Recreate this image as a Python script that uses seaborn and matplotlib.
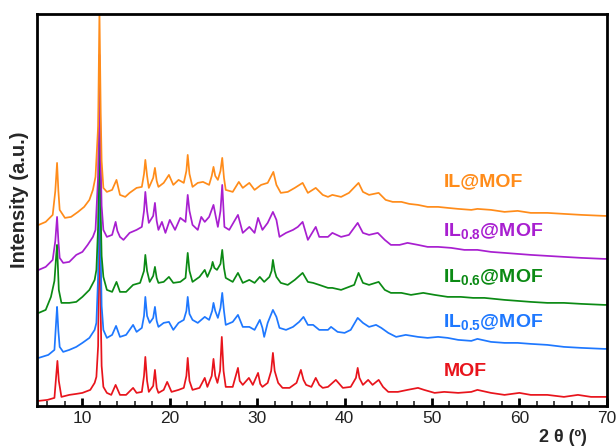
import matplotlib
matplotlib.use("Agg")
import matplotlib.pyplot as plt
from matplotlib.ticker import MultipleLocator, NullLocator
import seaborn as sns
import pandas as pd

# --- XRD patterns (2θ in degrees, intensity in arbitrary units) ---
mof_2theta = [5.0, 6.0, 6.8, 7.0, 7.14, 7.3, 7.6, 8.5, 9.3, 10.0, 10.9, 11.4, 11.6, 11.8, 11.95, 12.1, 12.2,
              12.4, 12.8, 13.3, 13.8, 14.3, 15.0, 15.8, 16.2, 16.8, 17.05, 17.2, 17.4, 17.6, 18.1, 18.3, 18.5,
              18.7, 19.3, 19.7, 20.2, 21.0, 21.6, 21.9, 22.05, 22.25, 22.6, 23.4, 24.0, 24.3, 24.8, 25.0, 25.2,
              25.45, 25.75, 25.95, 26.15, 26.4, 27.2, 27.8, 28.0, 28.35, 29.05, 29.5, 30.1, 30.35, 30.6, 31.2,
              31.6, 31.8, 32.0, 32.4, 32.9, 33.7, 34.5, 35.0, 35.3, 35.6, 36.2, 36.7, 37.1, 37.5, 38.1, 39.0,
              39.8, 40.7, 41.3, 41.5, 41.7, 42.1, 42.7, 43.2, 43.9, 44.4, 45.0, 46.1, 47.2, 48.4, 49.1, 50.3,
              51.4, 53.0, 54.5, 55.2, 56.75, 58.3, 60.0, 61.3, 63.2, 65.1, 66.7, 68.2, 69.7, 70.0]
mof_int = [5, 6, 8, 30, 45, 25, 9, 11, 12, 13, 16, 23, 29, 60, 215, 90, 40,
           19, 13, 11, 21, 11, 11, 18, 13, 14, 30, 49, 25, 14, 20, 36, 18,
           13, 16, 24, 14, 16, 18, 30, 48, 25, 16, 18, 28, 19, 30, 47, 30,
           23, 35, 69, 35, 19, 19, 38, 25, 21, 28, 21, 33, 22, 19, 23,
           35, 53, 35, 23, 18, 18, 23, 36, 26, 21, 19, 28, 21, 18, 19, 26,
           18, 19, 28, 38, 28, 21, 26, 21, 26, 19, 14, 14, 16, 18, 16, 13,
           14, 13, 14, 16, 13, 11, 13, 11, 11, 9, 11, 9, 9, 9]

il05_2theta = [5.0, 6.1, 6.8, 7.0, 7.1, 7.25, 7.4, 7.8, 8.5, 9.3, 10.0, 10.8, 11.4, 11.6, 11.8, 11.95, 12.1,
               12.2, 12.4, 12.8, 13.4, 13.85, 14.3, 15.0, 15.8, 16.2, 16.8, 17.05, 17.2, 17.4, 17.7, 18.1,
               18.3, 18.5, 18.7, 19.3, 19.9, 20.4, 21.0, 21.6, 21.9, 22.05, 22.25, 22.6, 23.2, 24.0, 24.5,
               24.85, 25.0, 25.2, 25.5, 25.8, 26.0, 26.2, 26.4, 27.2, 27.8, 28.35, 29.1, 29.7, 30.3, 30.6,
               30.8, 31.2, 31.8, 32.2, 32.55, 33.3, 34.1, 34.8, 35.3, 35.8, 36.4, 37.1, 38.1, 38.45, 39.2,
               40.0, 40.7, 41.5, 42.1, 42.8, 43.6, 44.2, 45.0, 45.9, 47.0, 48.4, 49.5, 50.7, 51.8, 53.0,
               54.5, 55.2, 56.75, 58.3, 59.8, 61.3, 63.2, 65.1, 67.1, 69.7, 70.0]
il05_int = [3, 6, 11, 40, 54, 30, 14, 9, 11, 14, 18, 23, 31, 38, 85, 214, 105,
            55, 31, 23, 26, 35, 24, 26, 36, 29, 33, 45, 64, 45, 38, 43,
            54, 40, 34, 38, 39, 31, 38, 41, 50, 64, 47, 41, 38, 44, 41,
            50, 58, 50, 43, 53, 68, 50, 36, 39, 46, 34, 34, 31, 41, 33,
            24, 38, 51, 44, 33, 31, 34, 39, 44, 36, 36, 31, 31, 34, 29,
            28, 31, 43, 38, 34, 36, 33, 28, 24, 26, 24, 23, 24, 23, 21,
            20, 22, 19, 18, 18, 17, 16, 14, 13, 12, 12]

il06_2theta = [5.0, 5.8, 6.4, 6.8, 7.0, 7.1, 7.3, 7.6, 8.5, 9.3, 10.0, 10.8, 11.4, 11.6, 11.8, 11.95, 12.1,
               12.2, 12.4, 12.8, 13.4, 13.9, 14.3, 15.0, 15.8, 16.6, 17.05, 17.2, 17.4, 17.7, 18.1, 18.3,
               18.5, 18.7, 19.3, 19.9, 20.4, 21.2, 21.8, 21.9, 22.05, 22.25, 22.6, 23.4, 24.0, 24.3, 24.75,
               24.9, 25.1, 25.4, 25.8, 26.0, 26.2, 26.4, 27.2, 27.8, 28.35, 29.1, 29.7, 30.3, 30.8, 31.4,
               31.65, 31.8, 32.0, 32.2, 32.7, 33.5, 34.3, 35.2, 35.8, 36.4, 37.1, 38.1, 38.6, 39.6, 40.5,
               41.1, 41.6, 42.1, 42.8, 43.9, 44.6, 45.3, 46.5, 47.6, 49.0, 50.3, 51.8, 53.3, 54.7, 56.0,
               58.3, 59.8, 61.3, 63.2, 65.1, 67.1, 69.7, 70.0]
il06_int = [3, 6, 19, 35, 60, 71, 26, 13, 13, 14, 19, 26, 36, 46, 90, 219, 100,
            60, 39, 26, 24, 34, 24, 24, 31, 33, 45, 61, 45, 34, 40, 49,
            38, 33, 34, 39, 33, 34, 38, 48, 63, 45, 34, 39, 46, 39, 48,
            54, 48, 46, 52, 66, 48, 38, 34, 43, 33, 36, 33, 39, 34, 39,
            45, 56, 45, 39, 33, 31, 36, 43, 34, 33, 31, 28, 28, 26, 29,
            31, 43, 33, 31, 34, 26, 23, 23, 21, 23, 21, 19, 19, 18, 18,
            16, 15, 14, 13, 13, 12, 11, 11]

il08_2theta = [5.0, 5.8, 6.6, 6.9, 7.1, 7.25, 7.4, 7.8, 8.5, 9.3, 10.0, 10.6, 11.2, 11.5, 11.8, 11.95, 12.1,
               12.2, 12.4, 12.8, 13.4, 13.8, 14.0, 14.3, 14.7, 15.4, 16.2, 16.8, 17.05, 17.2, 17.4, 17.6,
               18.1, 18.3, 18.5, 18.7, 19.1, 19.5, 20.0, 20.6, 21.2, 21.8, 21.9, 22.05, 22.25, 22.6, 23.2,
               23.6, 24.0, 24.5, 25.0, 25.2, 25.5, 25.8, 26.0, 26.25, 26.8, 27.8, 28.35, 29.1, 29.7, 30.1,
               30.6, 31.2, 31.8, 32.2, 32.55, 33.3, 34.1, 34.65, 35.2, 35.8, 36.7, 37.1, 38.1, 38.6, 39.6,
               40.5, 41.5, 42.1, 42.8, 43.8, 44.6, 45.3, 46.3, 47.2, 48.4, 49.5, 50.7, 52.2, 53.7, 55.2,
               56.75, 58.3, 59.8, 61.3, 63.2, 65.1, 67.1, 69.7, 70.0]
il08_int = [1, 4, 11, 30, 54, 30, 13, 8, 9, 16, 19, 26, 34, 41, 95, 216, 105,
            65, 41, 34, 36, 49, 40, 34, 31, 38, 41, 44, 60, 79, 60, 48,
            55, 68, 50, 41, 49, 38, 51, 41, 53, 49, 60, 76, 60, 46, 41,
            54, 49, 54, 66, 57, 44, 60, 86, 44, 41, 56, 38, 44, 38, 53,
            41, 48, 59, 51, 34, 38, 41, 44, 49, 31, 44, 34, 34, 38, 34,
            36, 48, 38, 36, 38, 31, 26, 26, 28, 26, 24, 24, 23, 21, 21,
            19, 18, 17, 16, 15, 14, 13, 12, 12]

ilmof_2theta = [5.0, 5.8, 6.6, 6.9, 7.1, 7.25, 7.4, 8.0, 8.7, 9.5, 10.2, 10.8, 11.2, 11.5, 11.8, 11.95, 12.1,
                12.2, 12.4, 12.8, 13.4, 13.9, 14.3, 14.9, 15.4, 16.2, 16.8, 17.05, 17.2, 17.4, 17.6, 18.1,
                18.3, 18.5, 18.7, 19.3, 19.9, 20.4, 21.0, 21.6, 21.9, 22.05, 22.25, 22.6, 23.2, 23.8, 24.5,
                24.8, 25.0, 25.2, 25.5, 25.8, 26.0, 26.2, 26.4, 27.2, 27.9, 28.35, 29.1, 29.7, 30.45, 31.2,
                31.85, 32.2, 32.7, 33.5, 34.3, 35.2, 35.8, 36.7, 37.5, 38.1, 38.6, 39.6, 40.5, 41.6, 42.1,
                42.8, 43.9, 44.7, 45.5, 46.5, 47.4, 48.4, 49.5, 50.7, 51.8, 53.0, 54.5, 55.2, 56.75, 58.3,
                59.8, 61.3, 63.2, 65.1, 67.1, 69.7, 70.0]
ilmof_int = [1, 4, 11, 35, 63, 35, 16, 8, 9, 14, 19, 26, 36, 49, 100, 215, 110,
             65, 38, 34, 36, 46, 31, 29, 33, 38, 39, 52, 66, 50, 38, 48,
             58, 45, 39, 43, 51, 41, 46, 43, 55, 71, 52, 39, 43, 44, 41,
             50, 59, 50, 46, 55, 68, 48, 36, 34, 44, 38, 43, 36, 41, 43,
             54, 41, 33, 34, 38, 43, 33, 38, 31, 29, 31, 29, 33, 43, 34,
             31, 33, 26, 24, 24, 22, 21, 19, 19, 18, 17, 16, 17, 16, 14,
             15, 13, 13, 12, 11, 10, 10]

sample_names = ["MOF", "IL$_{0.5}$@MOF", "IL$_{0.6}$@MOF", "IL$_{0.8}$@MOF", "IL@MOF"]
sample_colors = ["#E8141C", "#1E78FF", "#0B8A14", "#A81FD0", "#FF8C1A"]
stack_offsets = [0, 45, 90, 135, 180]
label_heights = [34, 84, 129, 175, 224]

patterns = [(mof_2theta, mof_int), (il05_2theta, il05_int), (il06_2theta, il06_int),
            (il08_2theta, il08_int), (ilmof_2theta, ilmof_int)]

sns.set_style("white")
plt.rcParams["font.family"] = ["Liberation Sans", "DejaVu Sans"]
plt.rcParams["mathtext.fontset"] = "custom"
plt.rcParams["mathtext.rm"] = "Liberation Sans:bold"
plt.rcParams["mathtext.it"] = "Liberation Sans:bold"
plt.rcParams["mathtext.bf"] = "Liberation Sans:bold"

fig = plt.figure(figsize=(6.16, 4.48), dpi=100)
ax = fig.add_axes([0.060, 0.094, 0.925, 0.875])

for (tt, inten), name, color, off, ly in zip(patterns, sample_names, sample_colors,
                                              stack_offsets, label_heights):
    df = pd.DataFrame({"two_theta": tt, "intensity": [v + off for v in inten]})
    sns.lineplot(data=df, x="two_theta", y="intensity", color=color, lw=1.25,
                 ax=ax, estimator=None, sort=False)
    ax.text(51.3, ly, name, color=color, fontsize=14, fontweight="bold",
            va="center", ha="left")

ax.set_xlim(4.8, 70)
ax.set_ylim(0, 392)

ax.xaxis.set_major_locator(MultipleLocator(10))
ax.xaxis.set_minor_locator(MultipleLocator(2))
ax.yaxis.set_major_locator(NullLocator())
ax.tick_params(axis="x", which="major", direction="in", length=6, width=2,
               labelsize=12.5, pad=4, bottom=True, top=False, colors="black")
ax.tick_params(axis="x", which="minor", direction="in", length=3.5, width=1.2,
               bottom=True, top=False)
ax.tick_params(axis="x", labelcolor="#222222")
for s in ax.spines.values():
    s.set_linewidth(2)
    s.set_color("black")

ax.set_xlabel("2 θ (º)", fontsize=13, fontweight="bold")
ax.xaxis.set_label_coords(0.923, -0.06)
ax.set_ylabel("Intensity (a.u.)", fontsize=14.5, fontweight="bold")
ax.yaxis.set_label_coords(-0.014, 0.526)

fig.savefig("out.png", dpi=100)
